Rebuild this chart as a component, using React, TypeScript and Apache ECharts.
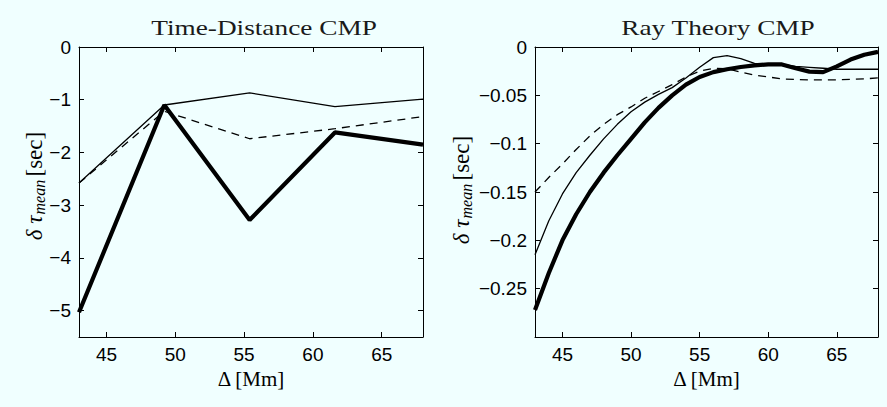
import React, { useEffect, useRef } from "react";
import * as echarts from "echarts";

// Time-distance CMP travel-time shifts (5 distances)
const tdDistance = [43, 49.2, 55.4, 61.6, 68];
const tdThick = [-5.03, -1.1, -3.28, -1.62, -1.85];
const tdThin = [-2.58, -1.1, -0.87, -1.13, -0.99];
const tdDashed = [-2.58, -1.22, -1.74, -1.55, -1.32];

// Ray-theory CMP travel-time shifts (1 Mm steps)
const rtDistance = [43, 44, 45, 46, 47, 48, 49, 50, 51, 52, 53, 54, 55, 56, 57, 58, 59, 60, 61, 62, 63, 64, 65, 66, 67, 68];
const rtThick = [-0.272, -0.234, -0.2, -0.173, -0.15, -0.13, -0.112, -0.095, -0.078, -0.063, -0.05, -0.039, -0.031, -0.026, -0.023, -0.0207, -0.019, -0.018, -0.018, -0.022, -0.0255, -0.026, -0.02, -0.013, -0.008, -0.005];
const rtThin = [-0.215, -0.18, -0.152, -0.13, -0.112, -0.095, -0.08, -0.067, -0.057, -0.049, -0.042, -0.032, -0.021, -0.011, -0.009, -0.012, -0.017, -0.018, -0.018, -0.02, -0.021, -0.022, -0.023, -0.023, -0.023, -0.023];
const rtDashed = [-0.15, -0.135, -0.121, -0.106, -0.092, -0.08, -0.07, -0.062, -0.053, -0.046, -0.039, -0.031, -0.025, -0.022, -0.0225, -0.026, -0.029, -0.031, -0.033, -0.0335, -0.034, -0.034, -0.034, -0.0335, -0.033, -0.032];

const xTicks = [45, 50, 55, 60, 65];
const tdTicks = [0, -1, -2, -3, -4, -5];
const rtTicks = [0, -0.05, -0.1, -0.15, -0.2, -0.25];

const titles = ["Time-Distance CMP", "Ray Theory CMP"];
const xName = "Δ [Mm]";
const yName = "{g|δ τ}{s|mean} {u|[sec]}";

const BG = "#F0FFFF";
const sans = "Liberation Sans, Arial, sans-serif";
const serif = "Liberation Serif, DejaVu Serif, serif";

const minus = (v: number) => (v === 0 ? "0" : v < 0 ? "\u2212" + String(Math.abs(v)) : String(v));

const pairs = (xs: number[], ys: number[]) => xs.map((x, i) => [x, ys[i]]);

const labelStyle = { fontFamily: sans, fontSize: 19, color: "#000", margin: 8 };

function xAxisPair(gridIndex: number) {
  const common = {
    type: "value" as const,
    gridIndex,
    min: 43,
    max: 68,
    splitLine: { show: false },
    axisLine: { show: true, onZero: false, lineStyle: { color: "#000", width: 1 } },
    axisTick: { show: true, inside: true, length: 5, lineStyle: { color: "#000" }, customValues: xTicks },
  };
  return [
    {
      ...common,
      position: "bottom",
      axisLabel: { show: true, ...labelStyle, customValues: xTicks, formatter: (v: number) => String(v) },
      name: xName,
      nameLocation: "middle",
      nameGap: 31,
      nameTextStyle: { fontFamily: serif, fontSize: 21, color: "#000", verticalAlign: "top" },
    },
    { ...common, position: "top", axisLabel: { show: false } },
  ];
}

function yAxisPair(gridIndex: number, min: number, ticks: number[]) {
  const common = {
    type: "value" as const,
    gridIndex,
    min,
    max: 0,
    splitLine: { show: false },
    axisLine: { show: true, onZero: false, lineStyle: { color: "#000", width: 1 } },
    axisTick: { show: true, inside: true, length: 5, lineStyle: { color: "#000" }, customValues: ticks },
  };
  return [
    {
      ...common,
      position: "left",
      axisLabel: { show: true, ...labelStyle, customValues: ticks, formatter: minus },
    },
    { ...common, position: "right", axisLabel: { show: false } },
  ];
}

function line(data: number[][], x: number, y: number, width: number, dashed = false) {
  return {
    type: "line",
    xAxisIndex: x,
    yAxisIndex: y,
    data,
    symbol: "none",
    smooth: false,
    lineStyle: { color: "#000", width, type: dashed ? [8, 6] : "solid" },
  };
}

function title(text: string, x: number) {
  return {
    type: "text",
    x,
    y: 28,
    scaleX: 1.3,
    style: { text, fontFamily: serif, fontSize: 21, fill: "#1a1a1a", align: "center", verticalAlign: "middle" },
  };
}

// rotated y-axis caption, centred on (x, y)
function yCaption(x: number, y: number) {
  return {
    type: "text",
    x,
    y,
    rotation: Math.PI / 2,
    style: {
      text: yName,
      align: "center",
      verticalAlign: "middle",
      rich: {
        g: { fontFamily: serif, fontStyle: "italic", fontSize: 23, fill: "#000", lineHeight: 26 },
        s: { fontFamily: serif, fontStyle: "italic", fontSize: 16, fill: "#000", verticalAlign: "bottom", lineHeight: 26, padding: [0, 0, 0, 1] },
        u: { fontFamily: serif, fontSize: 23, fill: "#000", lineHeight: 26 },
      },
    },
  };
}

export default function App() {
  const ref = useRef<HTMLDivElement>(null);

  useEffect(() => {
    document.body.style.margin = "0";
    document.body.style.background = BG;
    if (!ref.current) return;
    const chart = echarts.init(ref.current, null, { renderer: "svg" });
    chart.setOption({
      animation: false,
      backgroundColor: BG,
      grid: [
        { left: 79, right: 464, top: 47, bottom: 70 },
        { left: 535, right: 9, top: 47, bottom: 70 },
      ],
      xAxis: [...xAxisPair(0), ...xAxisPair(1)],
      yAxis: [...yAxisPair(0, -5.5, tdTicks), ...yAxisPair(1, -0.3, rtTicks)],
      graphic: [title(titles[0], 264), title(titles[1], 718), yCaption(34, 186), yCaption(461, 190)],
      series: [
        line(pairs(tdDistance, tdThick), 0, 0, 4.2),
        line(pairs(tdDistance, tdThin), 0, 0, 1.3),
        line(pairs(tdDistance, tdDashed), 0, 0, 1.3, true),
        line(pairs(rtDistance, rtThick), 2, 2, 4.2),
        line(pairs(rtDistance, rtThin), 2, 2, 1.3),
        line(pairs(rtDistance, rtDashed), 2, 2, 1.3, true),
      ],
    });
    return () => chart.dispose();
  }, []);

  return <div ref={ref} style={{ width: 887, height: 407, background: BG }} />;
}
